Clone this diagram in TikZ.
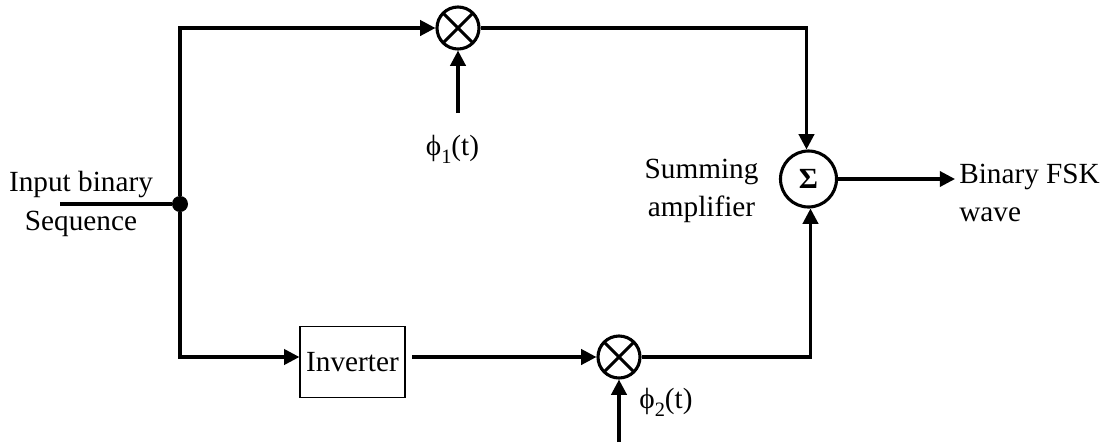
\documentclass[tikz,border=0pt]{standalone}
\usepackage{fontspec}
\setmainfont{Liberation Serif}
\usepackage{tikz}
\usetikzlibrary{arrows.meta,positioning,calc}

\newcommand{\lowsub}[1]{\raisebox{-0.62ex}{\fontsize{14.5}{14.5}\selectfont #1}}

\begin{document}
\begin{tikzpicture}[
  x=0.025cm, y=-0.025cm,
  font=\fontsize{20.8}{27.6}\selectfont,
  mix/.style={draw, circle, line width=2.2pt, minimum size=1.05cm, inner sep=0pt, fill=white,
              path picture={
                \draw[line width=2.2pt] (path picture bounding box.north west) -- (path picture bounding box.south east);
                \draw[line width=2.2pt] (path picture bounding box.north east) -- (path picture bounding box.south west);}},
  summer/.style={draw, circle, line width=2.2pt, minimum size=1.4cm, inner sep=0pt},
  blk/.style={draw, line width=1pt, minimum width=2.62cm, minimum height=1.77cm, inner sep=0pt},
  lbl/.style={align=center, inner sep=0pt},
  wire/.style={line width=2.2pt},
  arr/.style={wire, -{Triangle[length=3.8mm, width=3.8mm]}}
]
\useasboundingbox (0,0) rectangle (1107,443);

\node[mix]    (mixa)   at (458, 28)  {};
\node[mix]    (mixb)   at (619, 357) {};
\node[summer] (sum)    at (808.5, 179) {\raisebox{-0.2ex}{\textbf{Σ}}};
\node[blk]    (inv)    at (352.5, 362) {Inverter};
\node[circle, fill=black, inner sep=0pt, minimum size=0.4cm] (join) at (180, 204) {};

\node[lbl] (inlbl)  at (81, 204)  {Input binary\\Sequence};
\node[lbl] (sumlbl) at (701.5, 191) {Summing\\amplifier};
\node[lbl, align=left, anchor=west] (outlbl) at (959, 193) {Binary FSK\\wave};
\node[lbl, anchor=base] (phia) at (452.5, 155) {ϕ\lowsub{1}(t)};
\node[lbl, anchor=base] (phib) at (666, 408) {ϕ\lowsub{2}(t)};

\coordinate (instart) at (60, 204);
\coordinate (phiastart) at (458, 113);
\coordinate (phibstart) at (619, 442);
\coordinate (invout) at (412, 357);
\coordinate (sumout) at (955, 179);

\draw[wire] (instart) -- (join);
\draw[arr] (join) |- (mixa);
\draw[arr] (join) |- (inv.west |- mixb);
\draw[arr] (invout) -- (mixb);
\draw[arr] (phiastart) -- (mixa);
\draw[arr] (phibstart) -- (mixb);
\draw[arr] (mixa) -| ([xshift=-2*0.025cm]sum.north);
\draw[arr] (mixb) -| ([xshift=2*0.025cm]sum.south);
\draw[arr] (sum) -- (sumout);
\end{tikzpicture}
\end{document}
